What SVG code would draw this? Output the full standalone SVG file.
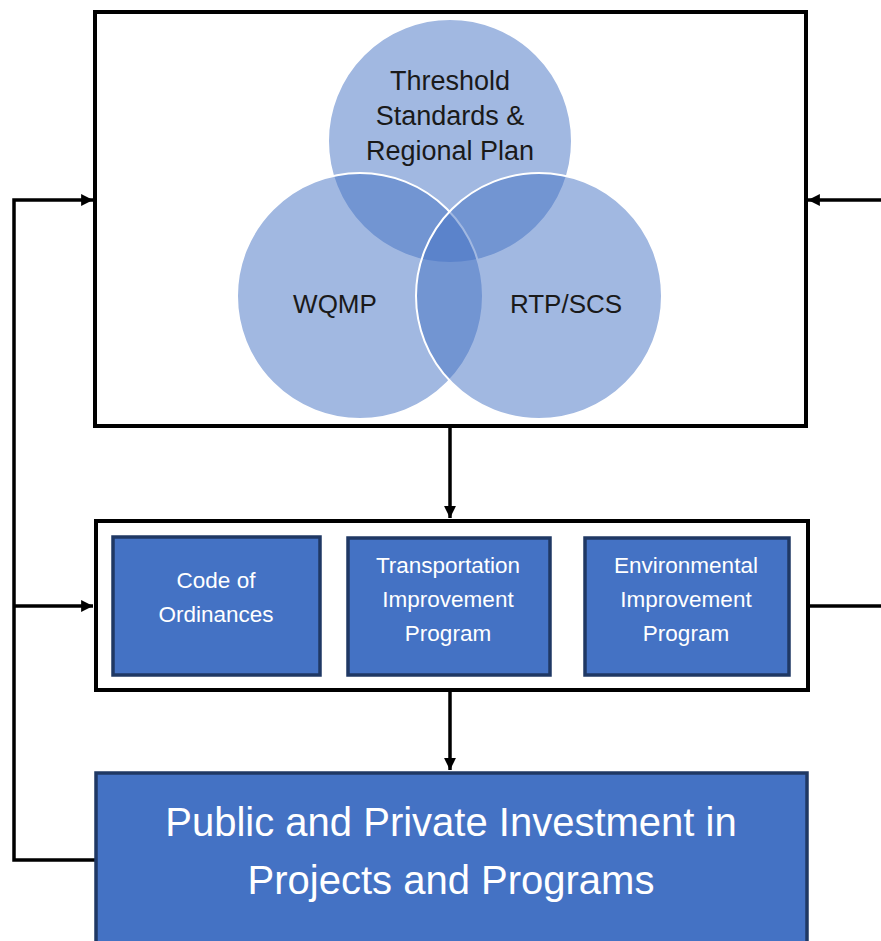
<svg xmlns="http://www.w3.org/2000/svg" width="881" height="941" viewBox="0 0 881 941">
<style>
.frame{fill:#fff;stroke:#000;stroke-width:4}
.venn{fill:#4472C4;fill-opacity:0.5;stroke:#fff;stroke-width:2}
.dark{font-family:"Liberation Sans",Arial,sans-serif;fill:#1a1a1a;text-anchor:middle}
.box{fill:#4472C4;stroke:#1F3864;stroke-width:3.5}
.wt{font-family:"Liberation Sans",Arial,sans-serif;fill:#fff;text-anchor:middle}
.conn{fill:none;stroke:#000;stroke-width:3.5}
</style>
<defs>
<marker id="ah" viewBox="0 0 10 10" refX="10" refY="5" markerWidth="3.4" markerHeight="3.4" orient="auto" markerUnits="strokeWidth">
<path d="M0,0 L10,5 L0,10 z" fill="#000"/>
</marker>
</defs>
<g id="connectors">
<path class="conn" d="M95,860 H14 V200 H93" marker-end="url(#ah)"/>
<path class="conn" d="M14,606 H93" marker-end="url(#ah)"/>
<path class="conn" d="M881,200 H808" marker-end="url(#ah)"/>
<path class="conn" d="M809,606 H881"/>
<path class="conn" d="M450,427 V518" marker-end="url(#ah)"/>
<path class="conn" d="M450,692 V770" marker-end="url(#ah)"/>
</g>
<g id="plans">
<rect class="frame" x="95" y="12" width="711" height="414"/>
<circle class="venn" cx="450" cy="141" r="122"/>
<circle class="venn" cx="360" cy="296" r="123"/>
<circle class="venn" cx="539" cy="296" r="123"/>
<text class="dark" font-size="27"><tspan x="450" y="90">Threshold</tspan><tspan x="450" y="125">Standards &amp;</tspan><tspan x="450" y="160">Regional Plan</tspan></text>
<text class="dark" font-size="26" x="335" y="313">WQMP</text>
<text class="dark" font-size="26" x="566" y="313">RTP/SCS</text>
</g>
<g id="implementation">
<rect class="frame" x="96" y="521" width="712" height="169"/>
<g id="code">
<rect class="box" x="113" y="537" width="207" height="138"/>
<text class="wt" font-size="22.5"><tspan x="216" y="588">Code of</tspan><tspan x="216" y="622">Ordinances</tspan></text>
</g>
<g id="tip">
<rect class="box" x="348" y="538" width="202" height="137"/>
<text class="wt" font-size="22.5"><tspan x="448" y="573">Transportation</tspan><tspan x="448" y="607">Improvement</tspan><tspan x="448" y="641">Program</tspan></text>
</g>
<g id="eip">
<rect class="box" x="585" y="538" width="204" height="137"/>
<text class="wt" font-size="22.5"><tspan x="686" y="573">Environmental</tspan><tspan x="686" y="607">Improvement</tspan><tspan x="686" y="641">Program</tspan></text>
</g>
</g>
<g id="investment">
<rect class="box" x="96" y="773" width="711" height="175"/>
<text class="wt" font-size="40"><tspan x="451" y="836">Public and Private Investment in</tspan><tspan x="451" y="894">Projects and Programs</tspan></text>
</g>
</svg>
